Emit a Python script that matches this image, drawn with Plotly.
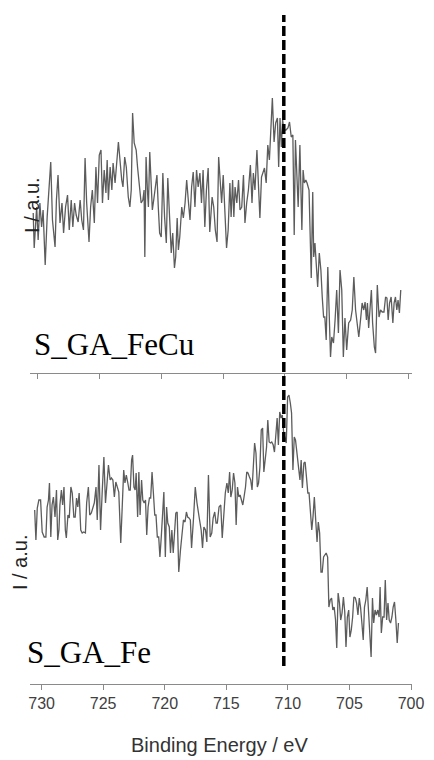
import plotly.graph_objects as go

# ---------------- data ----------------
# S_GA_FeCu (upper spectrum)
fecu_energy = [
    730.38, 730.30, 730.10, 729.98, 729.84, 729.70, 729.58, 729.41, 729.25, 729.12,
    728.96, 728.82, 728.61, 728.50, 728.37, 728.21, 728.05, 727.92, 727.76, 727.60,
    727.46, 727.30, 727.17, 727.03, 726.90, 726.74, 726.58, 726.45, 726.31, 726.18,
    726.05, 725.86, 725.73, 725.59, 725.43, 725.30, 725.17, 725.03, 724.89, 724.77,
    724.63, 724.49, 724.39, 724.29, 724.15, 724.01, 723.91, 723.75, 723.64, 723.48,
    723.21, 723.11, 722.97, 722.84, 722.68, 722.55, 722.44, 722.33, 722.20, 722.04,
    721.93, 721.77, 721.64, 721.50, 721.40, 721.34, 721.24, 721.13, 721.05, 720.94,
    720.84, 720.73, 720.62, 720.49, 720.36, 720.25, 720.14, 720.01, 719.88, 719.74,
    719.60, 719.48, 719.34, 719.20, 719.08, 718.94, 718.84, 718.72, 718.62, 718.51,
    718.35, 718.22, 718.08, 717.95, 717.82, 717.68, 717.55, 717.42, 717.28, 717.15,
    717.02, 716.88, 716.75, 716.62, 716.48, 716.35, 716.21,
    716.08, 715.89, 715.76, 715.63, 715.49, 715.36, 715.23, 715.12, 714.99, 714.85,
    714.72, 714.59, 714.45, 714.35, 714.23, 714.13, 714.03, 713.89, 713.75, 713.63,
    713.49, 713.35, 713.23, 713.09, 712.95, 712.79, 712.66, 712.55, 712.42, 712.26,
    712.13, 712.02, 711.89, 711.75, 711.65, 711.51, 711.38, 711.25, 711.11, 711.01,
    710.87, 710.74, 710.60, 710.50, 710.39, 710.28, 710.18, 710.07, 709.91, 709.75,
    709.62, 709.48, 709.35, 709.24, 709.14,
    708.92, 708.78, 708.68, 708.62, 708.52, 708.42, 708.30, 708.20, 708.04, 707.94,
    707.86, 707.74, 707.66, 707.56, 707.45, 707.34, 707.21, 707.08, 706.97, 706.86,
    706.76, 706.65, 706.52, 706.41, 706.30, 706.20, 706.06, 705.93, 705.80, 705.66,
    705.53, 705.39, 705.26, 705.13, 704.99, 704.83, 704.67, 704.54, 704.41, 704.27,
    704.14, 704.01, 703.87, 703.74, 703.61, 703.50, 703.39, 703.31, 703.21, 703.10,
    702.99, 702.89, 702.75, 702.65, 702.51, 702.37, 702.25, 702.11, 701.97, 701.84,
    701.73, 701.63, 701.52, 701.39, 701.25, 701.15, 701.04, 700.93, 700.83, 700.72,
    700.61,
]
fecu_intensity = [
    187, 152, 193, 160, 197, 173, 190, 135, 183, 210,
    238, 180, 153, 200, 225, 177, 197, 167, 193, 205,
    170, 200, 173, 197, 185, 178, 200, 180, 170, 242,
    197, 158, 193, 210, 177, 233, 197, 245, 250, 197,
    230, 207, 240, 200, 233, 210, 237, 217, 233, 258,
    220, 213, 243, 233, 203, 193, 210, 287, 257, 250,
    233, 210, 197, 200, 210, 143, 243, 210, 193, 248,
    220, 190, 200, 213, 225, 193, 167, 163, 227, 183,
    157, 222, 177, 147, 167, 132, 143, 182, 150, 163,
    193, 182, 197, 220, 200, 180, 213, 228, 193, 230,
    213, 227, 197, 230, 173, 210, 232,
    168, 203, 193, 170, 158, 243, 220, 197, 225, 177,
    152, 170, 217, 183, 220, 183, 213, 197, 220, 190,
    193, 225, 177, 197, 210, 235, 197, 227, 210, 250,
    210, 182, 223, 230, 232, 217, 255, 240, 273, 302,
    258, 277, 282, 233, 282, 253, 280, 270, 270, 272,
    278, 263, 265, 165, 260,
    193, 255, 210, 170, 230, 217, 220, 217, 210, 170,
    122, 208, 143, 157, 133, 113, 147, 130, 103, 83,
    83, 60, 133, 77, 43, 63, 57, 80, 110, 67,
    130, 110, 43, 82, 50, 77, 80, 90, 123, 90,
    77, 63, 80, 97, 90, 98, 80, 97, 72, 97,
    110, 77, 53, 47, 115, 83, 90, 88, 88, 103,
    102, 80, 97, 103, 77, 97, 103, 90, 100, 87,
    110,
]

# S_GA_Fe (lower spectrum)
fe_energy = [
    730.56, 730.46, 730.35, 730.22, 730.08, 729.95, 729.79, 729.65, 729.55, 729.44,
    729.36, 729.25, 729.15, 729.04, 728.91, 728.79, 728.69, 728.59, 728.51, 728.39,
    728.29, 728.18, 728.07, 727.99, 727.86, 727.75, 727.62, 727.51, 727.38, 727.27,
    727.16, 727.06, 726.95, 726.82, 726.70, 726.58, 726.44, 726.34, 726.20, 726.09,
    725.96, 725.85, 725.72, 725.58, 725.48, 725.34, 725.21, 725.07, 724.94, 724.81,
    724.70, 724.57, 724.43, 724.33, 724.21, 724.09, 723.97, 723.84, 723.73,
    723.57, 723.44, 723.33, 723.23, 723.12, 723.01, 722.90, 722.80, 722.69, 722.61,
    722.50, 722.40, 722.32, 722.20, 722.10, 722.00, 721.88, 721.78, 721.67, 721.56,
    721.46, 721.35, 721.24, 721.14, 721.03, 720.92, 720.81, 720.71, 720.60, 720.49,
    720.39, 720.28, 720.17, 720.07, 719.95, 719.85, 719.75, 719.63, 719.53, 719.42,
    719.31, 719.21, 719.10, 718.99, 718.86, 718.72, 718.59, 718.48, 718.35, 718.24,
    718.14, 718.03, 717.92, 717.82, 717.66, 717.52, 717.38, 717.28, 717.17, 717.04,
    716.93, 716.82, 716.69, 716.58, 716.45,
    716.31, 716.18, 716.07, 715.94, 715.83, 715.73, 715.59, 715.45, 715.33, 715.21,
    715.08, 714.95, 714.84, 714.73, 714.63, 714.52, 714.41, 714.30, 714.20, 714.09,
    713.98, 713.88, 713.77, 713.66, 713.56, 713.44, 713.34, 713.24, 713.12, 713.02,
    712.91, 712.80, 712.70, 712.59, 712.48, 712.38, 712.27, 712.16, 712.05, 711.95,
    711.84, 711.73, 711.63, 711.52, 711.41, 711.31, 711.19, 711.09, 710.99, 710.87,
    710.77, 710.66, 710.55, 710.45, 710.34, 710.23, 710.13, 710.02, 709.91, 709.80,
    709.70, 709.59, 709.48, 709.38, 709.27,
    709.14, 709.02, 708.92, 708.82, 708.70, 708.60, 708.49, 708.38, 708.28, 708.17,
    708.06, 707.96, 707.85, 707.74, 707.63, 707.53, 707.42, 707.31, 707.21, 707.10,
    706.99, 706.89, 706.77, 706.67, 706.56, 706.45, 706.35, 706.24, 706.13, 706.03,
    705.92, 705.81, 705.71, 705.60, 705.49, 705.38, 705.28, 705.17, 705.06, 704.96,
    704.85, 704.74, 704.64, 704.52, 704.42, 704.31, 704.20, 704.10, 703.99, 703.88,
    703.78, 703.67, 703.56, 703.46, 703.35, 703.24, 703.13, 703.03, 702.92, 702.81,
    702.70, 702.59, 702.51, 702.41, 702.30, 702.19, 702.09, 701.98, 701.87, 701.77,
    701.66, 701.55, 701.45, 701.34, 701.23, 701.12, 701.02,
]
fe_intensity = [
    190, 160, 192, 200, 200, 168, 163, 163, 193, 200,
    217, 163, 195, 203, 183, 210, 160, 170, 195, 210,
    195, 213, 170, 162, 185, 182, 213, 207, 183, 183,
    202, 193, 207, 170, 167, 168, 167, 197, 213, 185,
    187, 192, 197, 213, 180, 235, 170, 210, 243, 197,
    213, 235, 220, 222, 220, 203, 218, 213, 208,
    157, 207, 230, 217, 225, 218, 210, 210, 240, 245,
    213, 210, 227, 183, 228, 185, 220, 200, 197, 200,
    165, 193, 202, 202, 228, 207, 185, 185, 163, 163,
    143, 163, 187, 208, 143, 193, 177, 173, 147, 170,
    147, 167, 187, 188, 128, 150, 167, 180, 178, 188,
    183, 182, 180, 152, 182, 213, 197, 187, 180, 170,
    152, 173, 170, 158, 225,
    163, 167, 182, 188, 177, 177, 193, 195, 162, 190,
    207, 217, 207, 228, 203, 210, 227, 217, 175, 213,
    203, 205, 200, 195, 203, 213, 228, 227, 223, 220,
    210, 230, 257, 247, 213, 217, 233, 270, 272, 228,
    245, 253, 280, 258, 257, 258, 255, 248, 263, 282,
    255, 288, 282, 285, 267, 260, 257, 303, 305, 297,
    287, 230, 263, 260, 247,
    233, 220, 240, 212, 237, 238, 223, 207, 207, 190,
    170, 183, 203, 180, 158, 178, 167, 128, 128, 143,
    145, 147, 143, 93, 100, 102, 90, 93, 80, 52,
    107, 97, 80, 87, 103, 88, 53, 83, 90, 63,
    70, 83, 103, 102, 97, 85, 102, 93, 77, 60,
    93, 100, 113, 88, 75, 43, 102, 77, 90, 85,
    90, 83, 113, 67, 83, 83, 120, 80, 97, 80,
    77, 83, 93, 98, 80, 57, 77,
]

x_ticks = [730, 725, 720, 715, 710, 705, 700]
x_tick_text = ["730", "725", "720", "715", "710", "705", "700"]
reference_energy = 710.33
panel_labels = ["S_GA_FeCu", "S_GA_Fe"]
y_label = "I / a.u."
x_label = "Binding Energy / eV"

# ---------------- figure ----------------
line_style = dict(color="#5c5c5c", width=1.3)
sans = "Liberation Sans, Arial, sans-serif"
serif = "Liberation Serif, Times New Roman, serif"

fig = go.Figure()
fig.add_trace(go.Scatter(x=fecu_energy, y=fecu_intensity, mode="lines",
                         line=line_style, xaxis="x", yaxis="y",
                         showlegend=False, hoverinfo="skip"))
fig.add_trace(go.Scatter(x=fe_energy, y=fe_intensity, mode="lines",
                         line=line_style, xaxis="x2", yaxis="y2",
                         showlegend=False, hoverinfo="skip"))

axis_common = dict(
    showline=True, linecolor="#8a8a8a", linewidth=1.2,
    ticks="outside", ticklen=5, tickwidth=1, tickcolor="#8a8a8a",
    tickvals=x_ticks, ticktext=x_tick_text,
    showgrid=False, zeroline=False, fixedrange=True,
)

fig.update_layout(
    width=434, height=760,
    margin=dict(l=30, r=18, t=10, b=76),
    paper_bgcolor="white", plot_bgcolor="white",
    xaxis=dict(**axis_common, range=[730.64, 699.70], anchor="y",
               showticklabels=False),
    yaxis=dict(domain=[0.4614, 1.0], range=[27, 390], visible=False,
               anchor="x"),
    xaxis2=dict(**axis_common, range=[730.94, 699.92], anchor="y2",
                showticklabels=True,
                tickfont=dict(family=sans, size=16, color="#404040")),
    yaxis2=dict(domain=[0.0, 0.4436], range=[16, 315], visible=False,
                anchor="x2"),
    shapes=[dict(type="line", xref="x2", yref="paper",
                 x0=reference_energy, x1=reference_energy,
                 y0=0.0267, y1=0.9926,
                 line=dict(color="black", width=3.5, dash="10px,4px"))],
    annotations=[
        dict(text=x_label, xref="paper", yref="paper", x=0.495, y=-0.0905,
             xanchor="center", yanchor="middle", showarrow=False,
             font=dict(family=sans, size=20, color="#333333")),
        dict(text=y_label, xref="paper", yref="paper", x=0.0052, y=0.7107,
             xanchor="center", yanchor="middle", showarrow=False, textangle=-90,
             font=dict(family=sans, size=20, color="#222222")),
        dict(text=y_label, xref="paper", yref="paper", x=-0.0259, y=0.181,
             xanchor="center", yanchor="middle", showarrow=False, textangle=-90,
             font=dict(family=sans, size=20, color="#222222")),
        dict(text=panel_labels[0], xref="paper", yref="paper", x=0.006, y=0.503,
             xanchor="left", yanchor="middle", showarrow=False,
             font=dict(family=serif, size=31, color="black")),
        dict(text=panel_labels[1], xref="paper", yref="paper", x=-0.012, y=0.046,
             xanchor="left", yanchor="middle", showarrow=False,
             font=dict(family=serif, size=31, color="black")),
    ],
)

fig.write_html("out.html")
